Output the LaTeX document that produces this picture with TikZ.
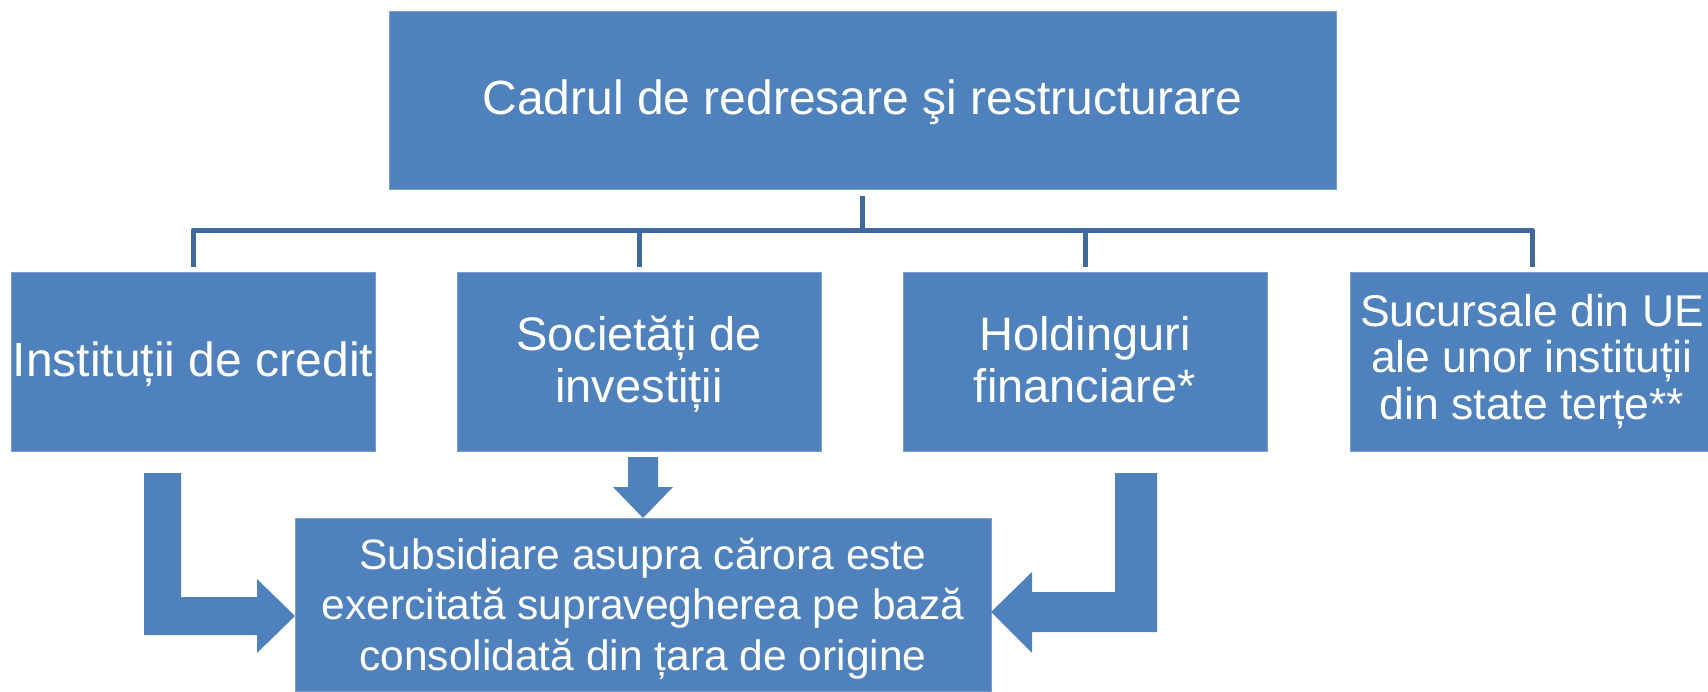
\documentclass[tikz,border=0pt]{standalone}
\usepackage{fontspec}
\setmainfont{Liberation Sans}
\definecolor{boxblue}{HTML}{4F81BD}
\definecolor{edgeblue}{HTML}{7B9ED0}
\definecolor{linkblue}{HTML}{41689A}
\newcommand{\topstrut}[1]{\rule{0pt}{#1}}
\newcommand{\botstrut}{\rule[-11pt]{0pt}{11pt}}
\tikzset{
  box/.style={rectangle, fill=boxblue, draw=edgeblue, line width=1pt, inner sep=0pt,
    text=white, align=center},
  rowbox/.style={box, minimum width=364pt, minimum height=179pt,
    font=\fontsize{47}{52}\selectfont},
  conn/.style={draw=linkblue, line width=5pt, line join=round},
  blockarrow/.style={fill=boxblue, draw=none}
}
\begin{document}
\begin{tikzpicture}[x=1pt,y=-1pt]
\useasboundingbox (0,0) rectangle (1708,691);
\clip (0,0) rectangle (1708,691);

\node[box, minimum width=947pt, minimum height=178pt, font=\fontsize{48}{50}\selectfont]
  (top) at (862.5,100) {\topstrut{39pt}Cadrul de redresare şi restructurare\botstrut};

\node[rowbox, font=\fontsize{48}{52}\selectfont] (b1) at (193,361.5)
  {\topstrut{40pt}Instituții de credit\botstrut};
\node[rowbox] (b2) at (639,361.5) {\topstrut{40pt}Societăți de\\investiții\botstrut};
\node[rowbox] (b3) at (1085,361.5) {\topstrut{40pt}Holdinguri\\financiare*\botstrut};
\node[rowbox, font=\fontsize{44.5}{46.5}\selectfont] (b4) at (1532,361.5)
  {\topstrut{33pt}Sucursale din UE\\ale unor instituții\\din state terțe**\botstrut};

\node[box, minimum width=696pt, minimum height=173pt, font=\fontsize{42.5}{50.5}\selectfont]
  (bot) at (643,604.5) {\topstrut{41pt}Subsidiare asupra cărora este\\exercitată supravegherea pe bază\\consolidată din țara de origine\botstrut};

% tree connector
\coordinate (bus) at (862.5,230);
\draw[conn] ([yshift=-6pt]top.south) -- (top.south |- bus);
\draw[conn] ([yshift=5pt]b1.north) |- (b4.north |- bus) -- ([yshift=5pt]b4.north);
\draw[conn] ([yshift=5pt]b2.north) -- (b2.north |- bus);
\draw[conn] ([yshift=5pt]b3.north) -- (b3.north |- bus);

% block arrows
\coordinate (t1) at (295,616);
\coordinate (t2) at (643,518);
\coordinate (t3) at (991,612);
\fill[blockarrow] (144,473) -- (181,473) -- (181,597) -- (257,597) -- (257,579)
  -- (t1) -- (257,653) -- (257,635) -- (144,635) -- cycle;
\fill[blockarrow] (628,457) -- (658,457) -- (658,487) -- (673,487)
  -- (t2) -- (613,487) -- (628,487) -- cycle;
\fill[blockarrow] (1115,473) -- (1157,473) -- (1157,632) -- (1032,632) -- (1032,653)
  -- (t3) -- (1032,572) -- (1032,592) -- (1115,592) -- cycle;
\end{tikzpicture}
\end{document}
